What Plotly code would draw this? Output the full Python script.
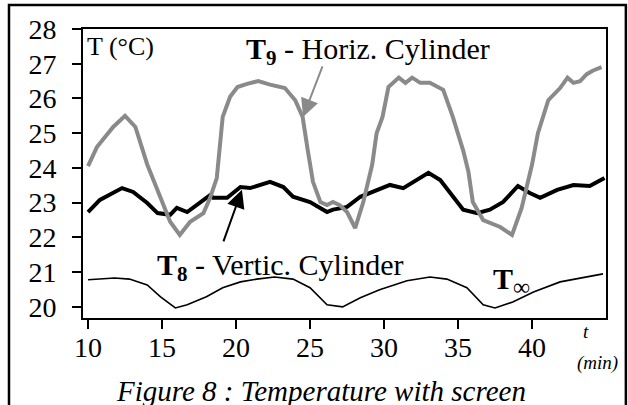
import plotly.graph_objects as go

# ---- data ----
t_inf = [10.0, 11.8, 12.8, 14.0, 14.9, 15.9, 16.7, 18.0, 19.1, 20.3, 21.4, 22.6, 23.85, 25.0,
         26.15, 27.2, 28.4, 29.7, 31.55, 33.1, 34.25, 35.6, 36.7, 37.5, 38.7, 40.1, 41.9, 43.2, 44.8]
T_inf = [20.78, 20.83, 20.8, 20.63, 20.29, 19.97, 20.06, 20.29, 20.55, 20.72, 20.8, 20.86, 20.8, 20.55,
         20.06, 20.0, 20.26, 20.49, 20.75, 20.86, 20.8, 20.55, 20.06, 19.97, 20.14, 20.43, 20.72, 20.83, 20.95]

t_8 = [10.0, 10.8, 12.3, 13.05, 14.0, 14.7, 15.55, 16.0, 16.7, 17.35, 18.25, 18.45, 19.4, 20.3, 20.95,
       22.3, 23.2, 23.85, 25.0, 26.15, 26.55, 27.2, 27.5, 28.4, 29.25, 30.4, 31.3, 31.95, 33.0, 33.8,
       34.45, 35.35, 36.3, 37.15, 38.05, 39.05, 39.85, 40.55, 41.7, 42.8, 43.9, 44.9]
T_8 = [22.73, 23.08, 23.42, 23.31, 22.99, 22.7, 22.65, 22.85, 22.73, 22.93, 23.22, 23.14, 23.14, 23.45, 23.42,
       23.6, 23.45, 23.17, 23.02, 22.73, 22.8, 22.85, 22.88, 23.17, 23.31, 23.51, 23.42, 23.6, 23.86, 23.65,
       23.31, 22.8, 22.7, 22.8, 23.02, 23.48, 23.28, 23.14, 23.37, 23.51, 23.48, 23.71]

t_9 = [10.0, 10.6, 11.7, 12.5, 13.2, 14.0, 14.9, 15.55, 16.2, 16.9, 17.8, 18.25, 18.7, 18.9, 19.1, 19.6,
       20.1, 20.75, 21.5, 22.3, 23.3, 24.0, 24.5, 24.85, 25.2, 25.7, 26.15, 26.55, 27.0, 27.5, 28.05, 28.6,
       29.2, 29.5, 29.9, 30.3, 31.0, 31.45, 31.9, 32.45, 33.1, 34.0, 34.65, 35.35, 35.7, 36.0, 36.7, 37.85,
       38.65, 39.3, 40.0, 40.4, 41.1, 41.9, 42.4, 42.8, 43.25, 43.7, 44.1, 44.7]
T_9 = [24.05, 24.6, 25.18, 25.5, 25.18, 24.1, 23.14, 22.45, 22.07, 22.45, 22.7, 23.14, 23.71, 24.5, 25.47, 26.05,
       26.33, 26.42, 26.5, 26.4, 26.3, 25.95, 25.47, 24.5, 23.6, 23.02, 22.93, 23.02, 22.93, 22.73, 22.27, 23.02,
       24.09, 25.0, 25.47, 26.33, 26.6, 26.45, 26.6, 26.45, 26.45, 26.25, 25.47, 24.5, 23.9, 23.02, 22.5, 22.3,
       22.07, 22.85, 24.09, 25.0, 25.95, 26.3, 26.6, 26.45, 26.5, 26.7, 26.8, 26.9]

x_ticks = [10, 15, 20, 25, 30, 35, 40]
y_ticks = [20, 21, 22, 23, 24, 25, 26, 27, 28]

SERIF = "Liberation Serif, Times New Roman, serif"

fig = go.Figure()
fig.add_trace(go.Scatter(x=t_inf, y=T_inf, mode="lines", line=dict(color="black", width=1.6),
                         showlegend=False, hoverinfo="skip"))
fig.add_trace(go.Scatter(x=t_8, y=T_8, mode="lines", line=dict(color="black", width=4),
                         showlegend=False, hoverinfo="skip"))
fig.add_trace(go.Scatter(x=t_9, y=T_9, mode="lines", line=dict(color="#8a8a8a", width=4),
                         showlegend=False, hoverinfo="skip"))

fig.update_layout(
    width=628, height=405,
    margin=dict(l=83, r=22, t=29, b=87),
    paper_bgcolor="white", plot_bgcolor="white",
    font=dict(family=SERIF, color="black"),
    xaxis=dict(range=[9.66, 45.0], tickvals=x_ticks, ticks="outside", ticklen=9, tickwidth=1.5,
               tickcolor="black", showline=True, linecolor="black", linewidth=2, mirror=True,
               showgrid=False, zeroline=False, tickfont=dict(size=28, family=SERIF),
               ticklabelstandoff=-6),
    yaxis=dict(range=[19.68, 28.0], tickvals=y_ticks, ticks="outside", ticklen=9, tickwidth=1.5,
               tickcolor="black", showline=True, linecolor="black", linewidth=2, mirror=True,
               showgrid=False, zeroline=False, tickfont=dict(size=28, family=SERIF),
               ticklabelstandoff=10),
)

# outer frame
fig.add_shape(type="rect", xref="paper", yref="paper", x0=-0.1415, x1=1.038, y0=-0.31, y1=1.083,
              line=dict(color="black", width=2.5), layer="above")

ann = [
    dict(text="T (°C)", x=0.004, y=0.995, xanchor="left", yanchor="top", font=dict(size=26)),
    dict(text="<b>T<sub>9</sub></b> - Horiz. Cylinder", x=0.308, y=0.998, xanchor="left", yanchor="top",
         font=dict(size=30)),
    dict(text="<b>T<sub>8</sub></b> - Vertic. Cylinder", x=0.137, y=0.25, xanchor="left", yanchor="top",
         font=dict(size=30)),
    dict(text="<b>T</b><sub><span style='font-size:24px'>∞</span></sub>", x=0.78, y=0.2,
         xanchor="left", yanchor="top", font=dict(size=30)),
    dict(text="<i>t</i>", x=0.962, y=-0.005, xanchor="center", yanchor="top", font=dict(size=19)),
    dict(text="<i>(min)</i>", x=0.983, y=-0.11, xanchor="center", yanchor="top", font=dict(size=19)),
    dict(text="<i>Figure 8 : Temperature with screen</i>", x=0.455, y=-0.19, xanchor="center",
         yanchor="top", font=dict(size=29)),
]
for a in ann:
    fig.add_annotation(xref="paper", yref="paper", showarrow=False, **a)

# arrows
fig.add_annotation(x=24.53, y=25.47, xref="x", yref="y", ax=20, ay=-52, text="", showarrow=True,
                   arrowhead=2, arrowsize=1.8, arrowwidth=2, arrowcolor="#8a8a8a")
fig.add_annotation(x=20.4, y=23.37, xref="x", yref="y", ax=-19, ay=53, text="", showarrow=True,
                   arrowhead=2, arrowsize=1.8, arrowwidth=2, arrowcolor="black")

fig.write_html("out.html", config={"displayModeBar": False},
               post_script="document.body.style.margin='0';document.body.style.overflow='hidden';")
